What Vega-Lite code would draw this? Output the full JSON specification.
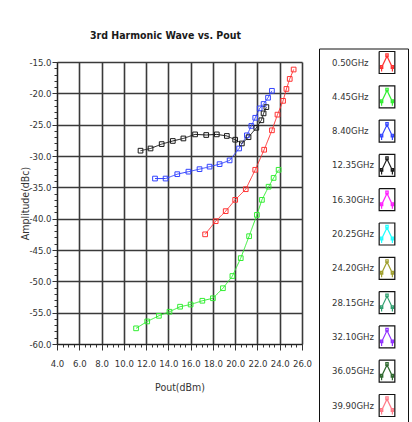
{
  "$schema": "https://vega.github.io/schema/vega-lite/v6.json",
  "width": 245,
  "height": 282,
  "autosize": {"type": "none"},
  "padding": {"left": 57, "top": 62, "right": 110, "bottom": 78},
  "background": "white",
  "title": {"text": "3rd Harmonic Wave vs. Pout", "font": "'DejaVu Sans Condensed', sans-serif", "fontSize": 10.5, "fontWeight": "bold", "color": "#1a1a1a", "anchor": "middle", "frame": "group", "dx": -14, "offset": 7},
  "config": {
    "view": {"stroke": null},
    "axis": {
      "labelFont": "'DejaVu Sans Condensed', sans-serif",
      "labelFontSize": 9.5,
      "labelColor": "#333333",
      "titleFont": "'DejaVu Sans Condensed', sans-serif",
      "titleFontSize": 10.5,
      "titleFontWeight": "normal",
      "titleColor": "#333333",
      "domainColor": "#222222",
      "tickColor": "#333333",
      "gridColor": "#3a3a3a",
      "gridWidth": 1.6,
      "tickCount": 100,
      "labelOverlap": false,
      "labelFlush": false,
      "labelBound": false
    },
    "legend": {
      "labelFont": "'DejaVu Sans Condensed', sans-serif",
      "labelFontSize": 9.5,
      "labelColor": "#333333"
    }
  },
  "data": {
    "values": [
      {"series": "0.50GHz", "ghz": 0.5, "pout": 17.3, "amp": -42.5},
      {"series": "0.50GHz", "ghz": 0.5, "pout": 18.25, "amp": -40.4},
      {"series": "0.50GHz", "ghz": 0.5, "pout": 19.15, "amp": -38.8},
      {"series": "0.50GHz", "ghz": 0.5, "pout": 20.0, "amp": -37.0},
      {"series": "0.50GHz", "ghz": 0.5, "pout": 20.95, "amp": -35.3},
      {"series": "0.50GHz", "ghz": 0.5, "pout": 21.8, "amp": -32.2},
      {"series": "0.50GHz", "ghz": 0.5, "pout": 22.6, "amp": -29.0},
      {"series": "0.50GHz", "ghz": 0.5, "pout": 23.3, "amp": -25.9},
      {"series": "0.50GHz", "ghz": 0.5, "pout": 23.8, "amp": -23.4},
      {"series": "0.50GHz", "ghz": 0.5, "pout": 24.3, "amp": -21.2},
      {"series": "0.50GHz", "ghz": 0.5, "pout": 24.6, "amp": -19.3},
      {"series": "0.50GHz", "ghz": 0.5, "pout": 24.9, "amp": -17.7},
      {"series": "0.50GHz", "ghz": 0.5, "pout": 25.25, "amp": -16.2},
      {"series": "4.45GHz", "ghz": 4.45, "pout": 11.1, "amp": -57.5},
      {"series": "4.45GHz", "ghz": 4.45, "pout": 12.1, "amp": -56.4},
      {"series": "4.45GHz", "ghz": 4.45, "pout": 13.15, "amp": -55.5},
      {"series": "4.45GHz", "ghz": 4.45, "pout": 14.1, "amp": -54.85},
      {"series": "4.45GHz", "ghz": 4.45, "pout": 15.05, "amp": -54.05},
      {"series": "4.45GHz", "ghz": 4.45, "pout": 16.0, "amp": -53.7},
      {"series": "4.45GHz", "ghz": 4.45, "pout": 17.05, "amp": -53.1},
      {"series": "4.45GHz", "ghz": 4.45, "pout": 18.0, "amp": -52.7},
      {"series": "4.45GHz", "ghz": 4.45, "pout": 18.9, "amp": -51.1},
      {"series": "4.45GHz", "ghz": 4.45, "pout": 19.75, "amp": -49.15},
      {"series": "4.45GHz", "ghz": 4.45, "pout": 20.5, "amp": -46.3},
      {"series": "4.45GHz", "ghz": 4.45, "pout": 21.25, "amp": -42.8},
      {"series": "4.45GHz", "ghz": 4.45, "pout": 21.95, "amp": -39.4},
      {"series": "4.45GHz", "ghz": 4.45, "pout": 22.4, "amp": -37.0},
      {"series": "4.45GHz", "ghz": 4.45, "pout": 23.0, "amp": -34.9},
      {"series": "4.45GHz", "ghz": 4.45, "pout": 23.45, "amp": -33.5},
      {"series": "4.45GHz", "ghz": 4.45, "pout": 23.9, "amp": -32.2},
      {"series": "8.40GHz", "ghz": 8.4, "pout": 12.8, "amp": -33.6},
      {"series": "8.40GHz", "ghz": 8.4, "pout": 13.75, "amp": -33.6},
      {"series": "8.40GHz", "ghz": 8.4, "pout": 14.8, "amp": -32.9},
      {"series": "8.40GHz", "ghz": 8.4, "pout": 15.8, "amp": -32.5},
      {"series": "8.40GHz", "ghz": 8.4, "pout": 16.8, "amp": -32.1},
      {"series": "8.40GHz", "ghz": 8.4, "pout": 17.7, "amp": -31.7},
      {"series": "8.40GHz", "ghz": 8.4, "pout": 18.6, "amp": -31.3},
      {"series": "8.40GHz", "ghz": 8.4, "pout": 19.5, "amp": -30.7},
      {"series": "8.40GHz", "ghz": 8.4, "pout": 20.35, "amp": -28.8},
      {"series": "8.40GHz", "ghz": 8.4, "pout": 21.05, "amp": -26.7},
      {"series": "8.40GHz", "ghz": 8.4, "pout": 21.45, "amp": -25.2},
      {"series": "8.40GHz", "ghz": 8.4, "pout": 21.8, "amp": -23.9},
      {"series": "8.40GHz", "ghz": 8.4, "pout": 22.2, "amp": -22.4},
      {"series": "8.40GHz", "ghz": 8.4, "pout": 22.55, "amp": -21.7},
      {"series": "8.40GHz", "ghz": 8.4, "pout": 22.95, "amp": -20.7},
      {"series": "8.40GHz", "ghz": 8.4, "pout": 23.3, "amp": -19.6},
      {"series": "12.35GHz", "ghz": 12.35, "pout": 11.5, "amp": -29.15},
      {"series": "12.35GHz", "ghz": 12.35, "pout": 12.4, "amp": -28.8},
      {"series": "12.35GHz", "ghz": 12.35, "pout": 13.4, "amp": -28.1},
      {"series": "12.35GHz", "ghz": 12.35, "pout": 14.4, "amp": -27.6},
      {"series": "12.35GHz", "ghz": 12.35, "pout": 15.35, "amp": -27.2},
      {"series": "12.35GHz", "ghz": 12.35, "pout": 16.4, "amp": -26.55},
      {"series": "12.35GHz", "ghz": 12.35, "pout": 17.4, "amp": -26.65},
      {"series": "12.35GHz", "ghz": 12.35, "pout": 18.35, "amp": -26.55},
      {"series": "12.35GHz", "ghz": 12.35, "pout": 19.25, "amp": -26.8},
      {"series": "12.35GHz", "ghz": 12.35, "pout": 20.0, "amp": -27.4},
      {"series": "12.35GHz", "ghz": 12.35, "pout": 20.6, "amp": -28.0},
      {"series": "12.35GHz", "ghz": 12.35, "pout": 21.2, "amp": -27.0},
      {"series": "12.35GHz", "ghz": 12.35, "pout": 21.9, "amp": -25.5},
      {"series": "12.35GHz", "ghz": 12.35, "pout": 22.35, "amp": -24.3},
      {"series": "12.35GHz", "ghz": 12.35, "pout": 22.55, "amp": -23.2},
      {"series": "12.35GHz", "ghz": 12.35, "pout": 22.8, "amp": -22.2}
    ]
  },
  "layer": [
    {
      "mark": {"type": "line", "strokeWidth": 1},
      "encoding": {
        "x": {
          "field": "pout", "type": "quantitative",
          "scale": {"domain": [4, 26], "nice": false, "zero": false},
          "axis": {
            "title": "Pout(dBm)",
            "titlePadding": 15,
            "labelPadding": 8,
            "values": [4,4.5,5,5.5,6,6.5,7,7.5,8,8.5,9,9.5,10,10.5,11,11.5,12,12.5,13,13.5,14,14.5,15,15.5,16,16.5,17,17.5,18,18.5,19,19.5,20,20.5,21,21.5,22,22.5,23,23.5,24,24.5,25,25.5,26],
            "labelExpr": "datum.value % 2 === 0 ? format(datum.value, '.1f') : ''",
            "grid": true,
            "gridOpacity": {"condition": {"test": "datum.value % 2 === 0", "value": 1}, "value": 0},
            "tickSize": {"condition": {"test": "datum.value % 2 === 0", "value": 6}, "value": 3}
          }
        },
        "y": {
          "field": "amp", "type": "quantitative",
          "scale": {"domain": [-60, -15], "nice": false, "zero": false},
          "axis": {
            "title": "Amplitude(dBc)",
            "titlePadding": -2,
            "labelPadding": 1,
            "values": [-60,-59,-58,-57,-56,-55,-54,-53,-52,-51,-50,-49,-48,-47,-46,-45,-44,-43,-42,-41,-40,-39,-38,-37,-36,-35,-34,-33,-32,-31,-30,-29,-28,-27,-26,-25,-24,-23,-22,-21,-20,-19,-18,-17,-16,-15],
            "labelExpr": "datum.value % 5 === 0 ? replace(format(datum.value, '.1f'), '\u2212', '-') : ''",
            "grid": true,
            "gridOpacity": {"condition": {"test": "datum.value % 5 === 0", "value": 1}, "value": 0},
            "tickSize": {"condition": {"test": "datum.value % 5 === 0", "value": 5}, "value": 3}
          }
        },
        "color": {
          "field": "series", "type": "nominal",
          "scale": {
            "domain": ["0.50GHz","4.45GHz","8.40GHz","12.35GHz","16.30GHz","20.25GHz","24.20GHz","28.15GHz","32.10GHz","36.05GHz","39.90GHz"],
            "range": ["#ff3333","#33ee33","#3344ff","#1a1a1a","#ff22ff","#22ffff","#a0a030","#30a070","#9030ff","#306a30","#ff7a88"]
          },
          "legend": {
            "orient": "none", "legendX": 262, "legendY": -13.5,
            "title": null,
            "padding": 4,
            "strokeColor": "#111111",
            "symbolType": "M-0.6,1.0L-0.6,0.55L0,-0.7L0.6,0.55L0.6,1.0M-0.13,-0.95h0.26v0.3h-0.26ZM-0.73,0.35h0.26v0.3h-0.26ZM0.47,0.35h0.26v0.3h-0.26ZM-0.87,-1.22M0.87,1.22M1.59,0",
            "symbolSize": 324,
            "symbolStrokeWidth": 1.2,
            "symbolFillColor": "transparent",
            "symbolOffset": 54,
            "labelOffset": -65,
            "rowPadding": 6.3
          }
        },
        "strokeDash": {
          "field": "ghz", "type": "nominal",
          "scale": {
            "domain": [0.5,4.45,8.4,12.35,16.3,20.25,24.2,28.15,32.1,36.05,39.9],
            "range": [[1,0],[1,0],[1,0],[1,0],[1,0],[1,0],[1,0],[1,0],[1,0],[1,0],[1,0]]
          },
          "legend": {
            "orient": "none", "legendX": 262, "legendY": -13.5,
            "title": null,
            "padding": 4,
            "values": [0.5,4.45,8.4,12.35,16.3,20.25,24.2,28.15,32.1,36.05,39.9],
            "symbolType": "M-0.87,-1.22H0.87V1.22H-0.87ZM1.59,0",
            "symbolSize": 324,
            "symbolStrokeColor": "#111111",
            "symbolStrokeWidth": 1.2,
            "symbolFillColor": "transparent",
            "symbolDash": [1,0],
            "symbolOffset": 54,
            "labelOffset": -65,
            "labelExpr": "''",
            "rowPadding": 6.3
          }
        }
      }
    },
    {
      "mark": {"type": "point", "shape": "square", "filled": false, "size": 22, "strokeWidth": 1, "opacity": 1},
      "encoding": {
        "x": {"field": "pout", "type": "quantitative"},
        "y": {"field": "amp", "type": "quantitative"},
        "color": {"field": "series", "type": "nominal"}
      }
    }
  ]
}
